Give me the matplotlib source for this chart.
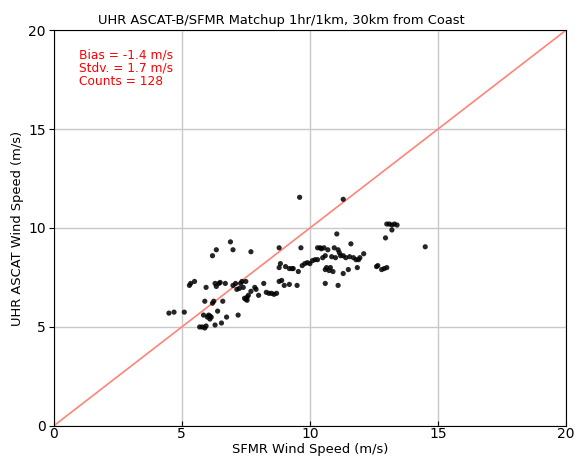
import matplotlib.pyplot as plt

sfmr = [4.5, 4.7, 5.1, 5.3, 5.35, 5.5, 5.7, 5.8, 5.9, 5.85, 5.9, 5.95, 6.0, 6.05, 6.1, 6.15,
        6.2, 6.25, 6.2, 6.35, 6.3, 6.35, 6.3, 6.4, 6.45, 6.5, 6.55, 6.6, 6.7, 6.75,
        6.9, 7.0, 7.0, 7.1, 7.15, 7.2, 7.3, 7.35, 7.4, 7.5, 7.5, 7.55, 7.6, 7.55, 7.7,
        7.7, 7.9, 8.0, 8.2, 8.3, 8.4, 8.6, 8.7, 8.8, 8.8, 8.85, 8.8, 9.0, 9.05, 9.2,
        9.3, 9.35, 9.5, 9.55, 9.6, 9.65, 9.7, 9.8, 10.0, 10.2, 10.3, 10.4, 10.5, 10.55,
        10.6, 10.65, 10.7, 10.8, 10.9, 10.95, 11.0, 11.05, 11.1, 11.2, 11.3, 11.3, 11.4,
        11.5, 11.6, 11.7, 11.8, 11.85, 11.9, 12.1, 12.6, 12.65, 12.8, 12.9, 13.0, 12.95,
        13.0, 13.1, 13.2, 13.2, 13.3, 13.4, 14.5, 10.6, 11.1, 10.3, 10.6, 11.3, 5.95,
        6.1, 7.25, 7.45, 8.9, 9.2, 10.1, 10.45, 10.85, 11.15, 11.55, 11.95, 10.75, 9.9,
        8.5, 7.85]
ascat = [5.7, 5.75, 5.75, 7.1, 7.2, 7.3, 5.0, 5.0, 4.95, 5.6, 6.3, 7.0, 5.5, 5.6, 5.4, 5.5,
         6.2, 6.3, 8.6, 8.9, 7.2, 7.05, 5.1, 5.8, 7.2, 7.25, 5.2, 6.3, 7.2, 5.5,
         9.3, 8.9, 7.1, 7.2, 6.9, 5.6, 7.2, 7.3, 7.0, 7.3, 6.4, 6.5, 6.6, 6.35, 6.8,
         8.8, 6.9, 6.6, 7.2, 6.75, 6.7, 6.65, 6.7, 9.0, 7.3, 8.2, 8.0, 7.1, 8.05, 7.15,
         7.95, 7.95, 7.1, 7.8, 11.55, 9.0, 8.1, 8.2, 8.2, 8.4, 9.0, 9.0, 8.5, 9.0,
         8.6, 8.0, 8.9, 8.0, 7.8, 9.0, 8.5, 9.7, 8.9, 8.6, 11.45, 7.7, 8.5,
         7.9, 9.2, 8.5, 8.4, 8.0, 8.4, 8.7, 8.05, 8.1, 7.9, 7.95, 8.0, 9.5,
         10.2, 10.2, 9.9, 10.15, 10.2, 10.15, 9.05, 7.2, 7.1, 8.4, 7.9, 8.6, 5.05,
         5.55, 6.95, 6.45, 7.35, 7.95, 8.35, 8.95, 8.55, 8.75, 8.55, 8.5, 7.85, 8.25,
         6.7, 7.0]

stats = 'Bias = -1.4 m/s\nStdv. = 1.7 m/s\nCounts = 128'

fig = plt.figure(figsize=(5.76, 4.62), dpi=100)
ax = fig.add_axes([0.093, 0.078, 0.89, 0.857])
ax.grid(True, color='#c8c8c8', linewidth=1)
ax.set_axisbelow(True)
ax.scatter(sfmr, ascat, s=14, color='black', alpha=0.85, edgecolors='none', zorder=3)
ax.plot([0, 20], [0, 20], color='#ff8478', linewidth=1.2, zorder=2)
ax.set_xlim(0, 20)
ax.set_ylim(0, 20)
ax.set_xticks([0, 5, 10, 15, 20])
ax.set_yticks([0, 5, 10, 15, 20])
ax.tick_params(axis='x', direction='in', labelsize=10, pad=1)
ax.tick_params(axis='y', labelsize=10, pad=2)
ax.set_xlabel('SFMR Wind Speed (m/s)', fontsize=9.4, labelpad=1)
ax.set_ylabel('UHR ASCAT Wind Speed (m/s)', fontsize=9.4, labelpad=3)
ax.set_title('UHR ASCAT-B/SFMR Matchup 1hr/1km, 30km from Coast', fontsize=9.4, pad=4, x=0.445)
ax.text(1.0, 19.05, stats, color='red', fontsize=8.8, va='top', linespacing=1.0)
fig.savefig('out.png')
